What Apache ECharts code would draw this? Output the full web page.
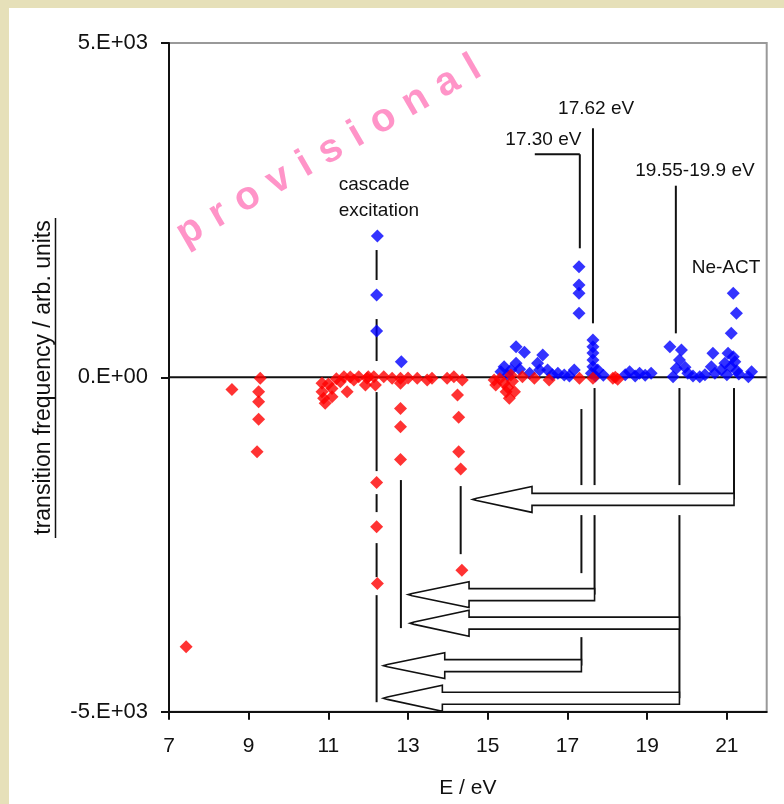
<!DOCTYPE html>
<html>
<head>
<meta charset="utf-8">
<script src="https://cdn.jsdelivr.net/npm/echarts@6/dist/echarts.min.js"></script>
<style>
  html, body { margin: 0; padding: 0; }
  body { width: 784px; height: 804px; background: #e6e0b9; position: relative; overflow: hidden; }
  #panel { position: absolute; left: 9px; top: 8px; width: 775px; height: 796px; background: #fff; }
  #chart { position: absolute; left: 0; top: 0; width: 784px; height: 804px; }
</style>
</head>
<body>
<div id="panel"></div>
<div id="chart"></div>
<script>
// Upward transitions (positive frequency), [E in eV, frequency]
const upTransitions = [
  [12.23, 2114], [12.21, 1231], [12.21, 693], [12.83, 233],
  [15.33, 84], [15.41, 159], [15.50, 30], [15.58, 109], [15.71, 209], [15.71, 458],
  [15.92, 374], [15.80, 120], [16.05, 60], [16.25, 209], [16.38, 334], [16.30, 110],
  [16.50, 109], [16.62, 40], [16.76, 60], [16.92, 34], [17.05, 20], [17.17, 109],
  [17.29, 1655], [17.29, 1381], [17.29, 1257], [17.29, 957],
  [17.64, 558], [17.64, 458], [17.64, 363], [17.64, 259], [17.64, 159],
  [17.60, 60], [17.76, 109], [17.70, 20], [17.90, 30],
  [18.45, 40], [18.56, 84], [18.70, 20], [18.81, 60], [18.95, 30], [19.10, 60],
  [19.57, 458], [19.86, 408], [19.81, 259], [19.73, 134], [19.65, 10], [19.95, 150],
  [20.02, 60], [20.15, 20], [20.32, 10], [20.45, 40],
  [20.61, 159], [20.65, 359], [20.70, 60], [20.86, 109], [20.95, 209], [21.03, 359],
  [21.10, 160], [21.16, 309], [21.20, 233], [21.25, 100], [21.00, 40], [21.30, 50],
  [21.16, 1257], [21.24, 957], [21.11, 658], [21.54, 10], [21.62, 84]
];

// Downward transitions (negative frequency), [E in eV, frequency]
const downTransitions = [
  [7.43, -4030], [8.58, -180],
  [9.29, -15], [9.25, -215], [9.25, -365], [9.25, -628], [9.21, -1113],
  [10.84, -90], [10.84, -215], [10.88, -314], [10.92, -389], [11.00, -100],
  [11.09, -165], [11.09, -290], [11.20, -20], [11.30, -66], [11.39, 9], [11.47, -215],
  [11.55, 5], [11.64, -40], [11.76, 9], [11.93, -115], [11.97, -15], [12.00, 10],
  [12.14, 9], [12.18, -115], [12.39, 9], [12.60, -15],
  [12.21, -1571], [12.21, -2235], [12.23, -3082],
  [12.81, -15], [12.81, -90], [12.81, -464], [12.81, -739], [12.81, -1227], [13.00, -10],
  [13.23, -15], [13.48, -40], [13.60, -15], [13.98, -15], [14.15, 9], [14.36, -40],
  [14.24, -265], [14.27, -598], [14.27, -1113], [14.32, -1372], [14.35, -2883],
  [15.16, -40], [15.20, -115], [15.30, -20], [15.41, -90], [15.46, -215], [15.50, -150],
  [15.54, -314], [15.58, 34], [15.62, -60], [15.67, -215],
  [15.87, 9], [16.17, -15], [16.54, -40], [17.30, -15], [17.64, -15],
  [18.14, -15], [18.20, 0], [18.26, -30]
];

// Axis ticks
const xTickValues = [7, 9, 11, 13, 15, 17, 19, 21];
const yTickValues = [-5000, 0, 5000];
const yTickLabels = ['-5.E+03', '0.E+00', '5.E+03'];

// Reference line at zero frequency, [E1, v1, E2, v2]
const zeroLine = [[7, 0, 22, 0]];

// Guide lines linking peaks to cascade arrows, [E1, v1, E2, v2]
const guideSegments = [
  // cascade excitation
  [12.21, 1904, 12.21, 1456], [12.21, 872, 12.21, 244], [12.21, -220, 12.21, -1402],
  [12.21, -1746, 12.21, -2015], [12.21, -2479, 12.21, -2988], [12.21, -3257, 12.21, -4858],
  [12.82, -1536, 12.82, -3750],
  [14.32, -1626, 14.32, -2644],
  // 17.30 eV
  [16.18, 3336, 17.31, 3336], [17.31, 3336, 17.31, 1930],
  [17.35, -474, 17.35, -1611], [17.35, -2060, 17.35, -2928], [17.35, -3885, 17.35, -4311],
  // 17.62 eV
  [17.64, 3725, 17.64, 808],
  [17.68, -160, 17.68, -1611], [17.68, -2060, 17.68, -3249],
  // 19.55-19.9 eV
  [19.72, 2866, 19.72, 658],
  [19.81, -160, 19.81, -1611], [19.81, -2060, 19.81, -4798],
  // Ne-ACT
  [21.18, -160, 21.18, -1825]
];

// Hollow arrows, [tip E, head base E, tail E, frequency level]
const cascadeArrows = [
  [14.62, 16.11, 21.18, -1825],
  [13.00, 14.53, 17.68, -3249],
  [13.05, 14.53, 19.81, -3676],
  [12.38, 13.92, 17.35, -4311],
  [12.38, 13.86, 19.81, -4798]
];

// Annotation labels and their anchor points [E, frequency]
const annotationTexts = ['cascade\nexcitation', '17.30 eV', '17.62 eV', '19.55-19.9 eV', 'Ne-ACT'];
const annotationPos = [[11.26, 2684], [17.35, 3550], [17.72, 4014], [20.20, 3086], [20.98, 1643]];
const annotationAlign = ['left', 'right', 'center', 'center', 'center'];

const FONT = '"Liberation Sans", Arial, sans-serif';

function renderSegment(params, api) {
  const a = api.coord([api.value(0), api.value(1)]);
  const b = api.coord([api.value(2), api.value(3)]);
  return {
    type: 'line',
    shape: { x1: a[0], y1: a[1], x2: b[0], y2: b[1] },
    style: { stroke: '#111', lineWidth: 2 }
  };
}

function renderArrow(params, api) {
  const v = api.value(3);
  const tip = api.coord([api.value(0), v]);
  const base = api.coord([api.value(1), v]);
  const tail = api.coord([api.value(2), v]);
  const y = tip[1];
  const shaft = 6, head = 13;
  return {
    type: 'polygon',
    shape: {
      points: [
        [tail[0], y - shaft], [base[0], y - shaft], [base[0], y - head],
        [tip[0] + 4, y - 1.2], [tip[0], y], [tip[0] + 4, y + 1.2],
        [base[0], y + head], [base[0], y + shaft], [tail[0], y + shaft]
      ]
    },
    style: { fill: '#fff', stroke: '#111', lineWidth: 1.6 }
  };
}

function renderLabel(params, api) {
  const p = api.coord([api.value(0), api.value(1)]);
  return {
    type: 'text',
    x: p[0],
    y: p[1],
    style: {
      text: annotationTexts[params.dataIndex],
      fill: '#111',
      fontSize: 19,
      fontFamily: FONT,
      align: annotationAlign[params.dataIndex],
      verticalAlign: 'middle',
      lineHeight: 26
    }
  };
}

// Spaced-out "provisional" stamp, one glyph per element along a slanted baseline
function stampLetters(word, from, to, fontSize) {
  const ctx = document.createElement('canvas').getContext('2d');
  ctx.font = 'bold ' + fontSize + 'px ' + FONT;
  const widths = word.split('').map(ch => ctx.measureText(ch).width);
  const dx = to[0] - from[0], dy = to[1] - from[1];
  const span = Math.hypot(dx, dy);
  const inner = widths.slice(1, -1).reduce((s, w) => s + w, 0) + (widths[0] + widths[widths.length - 1]) / 2;
  const gap = (span - inner) / (word.length - 1);
  const ux = dx / span, uy = dy / span;
  const angle = Math.atan2(-dy, dx);
  const out = [];
  let d = 0;
  word.split('').forEach((ch, i) => {
    if (i > 0) d += widths[i - 1] / 2 + gap + widths[i] / 2;
    out.push({
      type: 'text', x: from[0] + ux * d, y: from[1] + uy * d, rotation: angle, z: 1,
      style: {
        text: ch, fill: '#ff94c8', fontSize: fontSize, fontWeight: 'bold',
        fontFamily: FONT, align: 'center', verticalAlign: 'middle'
      }
    });
  });
  return out;
}

const chart = echarts.init(document.getElementById('chart'), null, { renderer: 'canvas' });

chart.setOption({
  animation: false,
  backgroundColor: 'transparent',
  grid: {
    left: 169, right: 17.3, top: 43, bottom: 92.3,
    show: true, borderColor: '#999', borderWidth: 2, backgroundColor: 'transparent'
  },
  xAxis: {
    type: 'value', min: 7, max: 22,
    name: 'E / eV', nameLocation: 'middle', nameGap: 66,
    nameTextStyle: { color: '#111', fontSize: 21, fontFamily: FONT },
    axisLine: { onZero: false, lineStyle: { color: '#111', width: 2 } },
    axisTick: { customValues: xTickValues, length: 8, lineStyle: { color: '#111', width: 2 } },
    axisLabel: { customValues: xTickValues, margin: 24, color: '#111', fontSize: 21, fontFamily: FONT },
    splitLine: { show: false }
  },
  yAxis: {
    type: 'value', min: -5000, max: 5000,
    axisLine: { show: true, onZero: false, lineStyle: { color: '#111', width: 2 } },
    axisTick: { show: true, customValues: yTickValues, length: 8, lineStyle: { color: '#111', width: 2 } },
    axisLabel: {
      customValues: yTickValues, margin: 21, color: '#111', fontSize: 22, fontFamily: FONT,
      formatter: (v) => {
        const i = yTickValues.indexOf(v);
        return i >= 0 ? yTickLabels[i] : '';
      }
    },
    splitLine: { show: false }
  },
  graphic: [
    {
      type: 'text', x: 44, y: 377.5, rotation: Math.PI / 2,
      style: {
        text: 'transition frequency / arb. units', fill: '#111',
        fontSize: 23, fontFamily: FONT, align: 'center', verticalAlign: 'middle'
      }
    },
    {
      type: 'line', shape: { x1: 55.5, y1: 218, x2: 55.5, y2: 538 },
      style: { stroke: '#111', lineWidth: 1.5 }
    }
  ].concat(stampLetters('provisional', [190, 231], [473, 68], 40)),
  series: [
    {
      type: 'custom', name: 'zero', coordinateSystem: 'cartesian2d', z: 2,
      dimensions: ['x1', 'y1', 'x2', 'y2'], encode: { x: [0, 2], y: [1, 3] },
      data: zeroLine, renderItem: renderSegment, silent: true
    },
    {
      type: 'custom', name: 'guides', coordinateSystem: 'cartesian2d', z: 2,
      dimensions: ['x1', 'y1', 'x2', 'y2'], encode: { x: [0, 2], y: [1, 3] },
      data: guideSegments, renderItem: renderSegment, silent: true
    },
    {
      type: 'custom', name: 'arrows', coordinateSystem: 'cartesian2d', z: 2,
      dimensions: ['tip', 'base', 'tail', 'level'], encode: { x: [0, 1, 2], y: 3 },
      data: cascadeArrows, renderItem: renderArrow, silent: true
    },
    {
      type: 'custom', name: 'labels', coordinateSystem: 'cartesian2d', z: 2,
      dimensions: ['x', 'y'], encode: { x: 0, y: 1 },
      data: annotationPos, renderItem: renderLabel, silent: true
    },
    {
      type: 'scatter', name: 'up', z: 3,
      symbol: 'diamond', symbolSize: 13,
      itemStyle: { color: '#0000ff' },
      data: upTransitions
    },
    {
      type: 'scatter', name: 'down', z: 4,
      symbol: 'diamond', symbolSize: 13,
      itemStyle: { color: '#ff0000' },
      data: downTransitions
    }
  ]
});
</script>
</body>
</html>
